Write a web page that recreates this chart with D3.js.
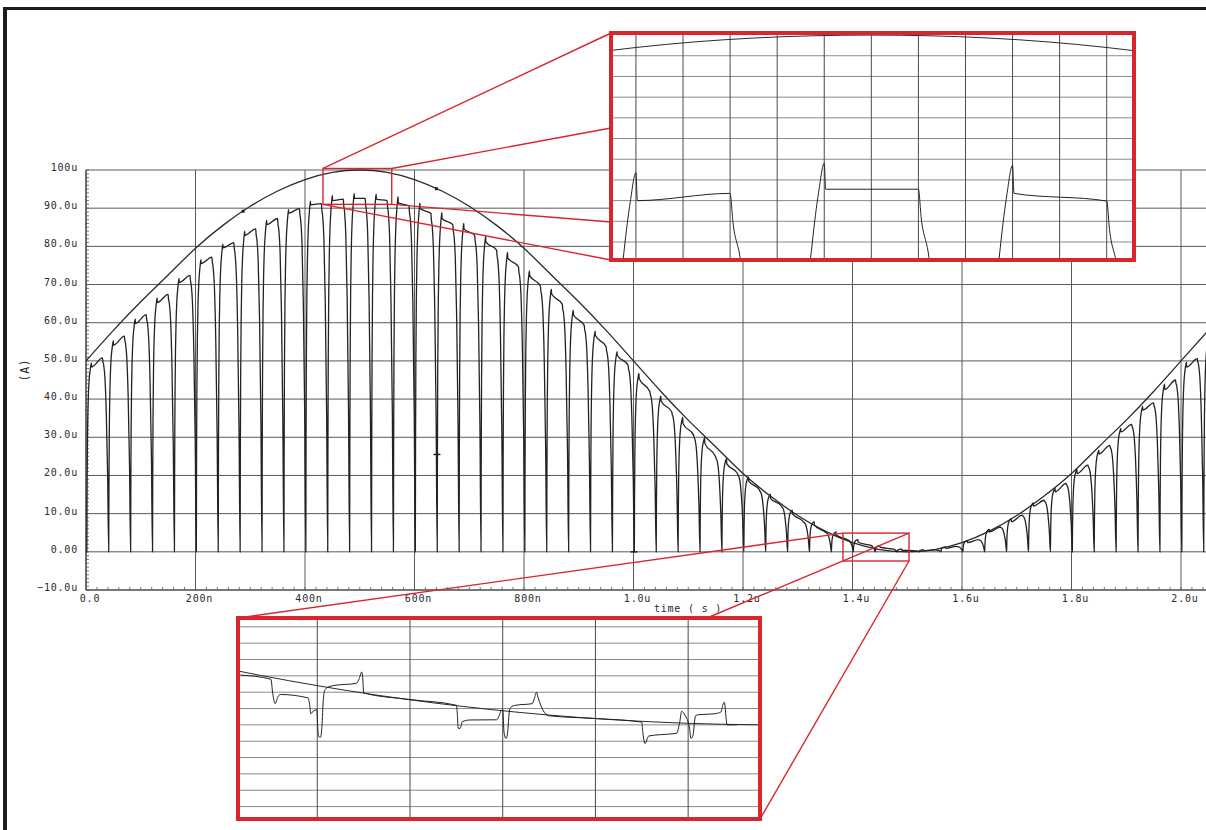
<!DOCTYPE html>
<html><head><meta charset="utf-8">
<script src="https://cdn.jsdelivr.net/npm/d3@7"></script>
<style>
html,body{margin:0;padding:0;background:#fff;}
svg{display:block;}
text{font-family:"DejaVu Sans Mono","Liberation Mono",monospace;}
</style></head>
<body>
<script>
// ---------------- data (time in ns, current in uA) ----------------
const xTickVals = [0, 200, 400, 600, 800, 1000, 1200, 1400, 1600, 1800, 2000];
const xTickLabels = ["0.0", "200n", "400n", "600n", "800n", "1.0u", "1.2u", "1.4u", "1.6u", "1.8u", "2.0u"];
const yTickVals = [-10, 0, 10, 20, 30, 40, 50, 60, 70, 80, 90, 100];
const yTickLabels = ["\u221210.0u", "0.00", "10.0u", "20.0u", "30.0u", "40.0u", "50.0u", "60.0u", "70.0u", "80.0u", "90.0u", "100u"];

// envelope (reference sine current)
const envT = [0, 50, 100, 150, 200, 250, 300, 350, 400, 450, 500, 550, 600, 650, 700, 750, 800, 850, 900, 950,
  1000, 1050, 1100, 1150, 1200, 1250, 1300, 1350, 1400, 1450, 1500, 1550, 1600, 1650, 1700, 1750, 1800, 1850, 1900, 1950, 2000, 2050];
const envI = [50, 58, 65.5, 72.5, 79.5, 85.5, 90.5, 94.5, 97.5, 99.4, 100, 99.4, 97.5, 94.5, 90.5, 85.5, 79.5, 72.5, 65.5, 58,
  50, 42, 34.5, 27.5, 20.5, 14.6, 9.5, 5.4, 2.4, 0.6, 0, 0.6, 2.4, 5.4, 9.5, 14.6, 20.5, 27.5, 34.5, 42, 50, 58];

// switched current pulses: dip instants and levels per pulse
const dipT = [1.5, 41.5, 81.5, 121.5, 161.5, 201.5, 241.5, 281.5, 321.5, 361.5, 401.5, 441.5, 481.5, 521.5, 561.5, 601.5,
  641.5, 681.5, 721.5, 761.5, 801.5, 841.5, 881.5, 921.5, 961.5, 1001.5, 1041.5, 1081.5, 1121.5, 1161.5, 1201.5, 1241.5,
  1281.5, 1321.5, 1361.5, 1401.5, 1441.5, 1481.5, 1521.5, 1561.5, 1601.5, 1641.5, 1681.5, 1721.5, 1761.5, 1801.5, 1841.5,
  1881.5, 1921.5, 1961.5, 2001.5, 2041.5];
const spikeI = [49.5, 55.3, 61.0, 66.5, 71.6, 76.5, 80.6, 84.0, 86.8, 89.6, 91.8, 93.35, 93.8, 93.7, 93.0, 91.3,
  88.8, 86.0, 82.6, 78.4, 73.6, 68.8, 63.3, 57.8, 52.4, 46.7, 40.8, 35.2, 29.9, 24.4, 19.6, 15.1,
  10.9, 7.9, 5.2, 3.2, 1.6, 0.7, 0.5, 1.3, 2.9, 5.9, 8.7, 12.8, 16.6, 21.6, 26.6,
  32.3, 38.1, 43.9, 49.7, 56.0];
const plateauStart = [48.4, 54.1, 59.8, 65.3, 70.5, 75.5, 79.6, 82.9, 85.7, 88.7, 90.9, 92.0, 92.55, 92.35, 91.4, 89.9,
  87.3, 84.6, 81.2, 77.0, 72.4, 67.6, 62.1, 56.7, 51.5, 45.4, 39.5, 33.6, 28.4, 23.1, 18.6, 14.0,
  10.0, 7.0, 4.4, 2.5, 1.2, 0.4, 0.3, 0.9, 2.4, 5.2, 7.9, 12.0, 15.7, 20.5, 25.6,
  31.4, 37.1, 42.5, 48.4, 54.5];
const plateauEnd = [50.8, 56.5, 62.1, 67.4, 72.4, 77.2, 81.0, 84.6, 87.3, 89.9, 91.2, 92.35, 92.55, 91.98, 90.6, 88.6,
  85.7, 82.9, 79.0, 74.6, 69.6, 64.8, 59.3, 53.7, 48.9, 41.9, 36.6, 30.5, 24.9, 20.5, 16.2, 12.0,
  7.9, 5.2, 3.2, 1.8, 0.8, 0.3, 0.5, 1.4, 3.2, 6.5, 9.6, 13.5, 17.9, 22.7, 27.9,
  33.4, 39.0, 45.0, 50.6, 57.0];
// pulse edge shape (time after dip / after plateau end, fraction of level)
const riseDT = [0, 0.4, 1, 2, 3, 4.5, 6, 7.3, 8.5];
const riseF  = [0, 0.3, 0.55, 0.74, 0.84, 0.92, 0.96, 0.985, 1];
const spikeDropDT = 8.8, plateauEndDT = 28.5;
const fallDT = [0, 0.6, 2.2, 4.5, 7, 9.5, 11.5];
const fallF  = [1, 0.985, 0.965, 0.9, 0.72, 0.4, 0];

// small markers seen on the traces
const envDotT = [287, 640];
const dashT = [640, 1000];
const dashI = [25.5, 0];

// zoom windows
const zoomA = {t0: 444.7, t1: 555.8, i0: 89.13, i1: 100.1};
const zoomAxT = [450, 460, 470, 480, 490, 500, 510, 520, 530, 540, 550];
const zoomAyI = [90, 91, 92, 93, 94, 95, 96, 97, 98, 99];
const boxA = {t0: 432.9, t1: 558.4, i0: 91.0, i1: 100.4};

const zoomB = {t0: 1382.9, t1: 1495.5, i0: -5.76, i1: 6.54};
const zoomBxT = [1400, 1420, 1440, 1460, 1480];
const zoomByI = [-5, -4, -3, -2, -1, 0, 1, 2, 3, 4, 5, 6];
const boxB = {t0: 1382.6, t1: 1503.2, i0: -2.4, i1: 4.9};
// detailed trace near the current minimum (bottom zoom)
const zBT = [1383.4, 1390, 1390.4, 1390.9, 1391.5, 1392, 1398, 1398.4, 1398.6, 1399.1, 1399.9, 1400.1, 1400.3, 1400.7, 1401, 1401.3, 1401.7, 1402.5, 1403.6, 1408.4, 1409, 1409.6, 1409.8, 1410, 1420, 1430,
  1430.2, 1430.4, 1430.8, 1431.3, 1433, 1438.7, 1439.3, 1439.6, 1440, 1440.3, 1440.7, 1441, 1441.5, 1442, 1442.8, 1446.4, 1446.8, 1447.3, 1447.6, 1449.9, 1460, 1470,
  1470.2, 1470.4, 1470.7, 1471.5, 1474, 1477.5, 1478.2, 1478.6, 1479.3, 1480.3, 1480.6, 1481, 1481.6, 1482.2, 1485.7, 1487.1, 1487.5, 1487.8, 1488.4, 1490.5];
const zBI = [3.05, 2.79, 1.9, 1.30, 1.71, 1.86, 1.65, 1.14, 0.68, 0.83, 0.93, -0.1, -0.72, -0.76, -0.1, 1.55, 2.17, 2.33, 2.41, 2.54, 2.79, 3.24, 2.9, 1.96, 1.55, 1.2,
  0.7, -0.2, -0.22, 0.2, 0.3, 0.31, 0.62, 0.85, 0.93, -0.5, -0.83, -0.6, 0.93, 1.14, 1.2, 1.3, 1.6, 2.0, 1.7, 0.56, 0.39, 0.17,
  -0.4, -0.83, -1.14, -0.68, -0.6, -0.52, 0.2, 0.83, 0.6, -0.2, -0.83, -0.7, 0.56, 0.62, 0.68, 0.8, 1.24, 1.38, 0.0, 0.0];

// ---------------- drawing ----------------
const W = 1206, H = 830;
const RED = "#d8262c";
const svg = d3.select("body").append("svg").attr("width", W).attr("height", H);
svg.append("rect").attr("width", W).attr("height", H).attr("fill", "#fff");

// page frame
svg.append("rect").attr("x", 3).attr("y", 8).attr("width", 4).attr("height", H - 8).attr("fill", "#1c1c1c");
svg.append("rect").attr("x", 3).attr("y", 7).attr("width", W - 3).attr("height", 3).attr("fill", "#1c1c1c");

const x = d3.scaleLinear().domain([0, 2000]).range([86, 1181]);
const y = d3.scaleLinear().domain([-10, 100]).range([590, 170]);
const plotL = 86, plotR = 1206, plotT = 170, plotB = 590;

const defs = svg.append("defs");
defs.append("clipPath").attr("id", "plotClip").append("rect")
  .attr("x", plotL).attr("y", plotT - 5).attr("width", plotR - plotL).attr("height", plotB - plotT + 5);

const g = svg.append("g");
// grid
g.selectAll("line.hg").data(yTickVals).join("line")
  .attr("x1", plotL).attr("x2", plotR).attr("y1", d => y(d)).attr("y2", d => y(d))
  .attr("stroke", "#5a5a5a").attr("stroke-width", 1);
g.selectAll("line.vg").data(xTickVals).join("line")
  .attr("x1", d => x(d)).attr("x2", d => x(d)).attr("y1", plotT).attr("y2", plotB)
  .attr("stroke", "#5a5a5a").attr("stroke-width", 1);
// axis lines
g.append("line").attr("x1", plotL).attr("x2", plotL).attr("y1", plotT).attr("y2", plotB).attr("stroke", "#444").attr("stroke-width", 1.2);
g.append("line").attr("x1", plotL).attr("x2", plotR).attr("y1", plotB).attr("y2", plotB).attr("stroke", "#444").attr("stroke-width", 1.2);
// minor ticks
const yMinor = d3.range(-10, 100.01, 1);
g.selectAll("line.ym").data(yMinor).join("line")
  .attr("x1", plotL).attr("x2", plotL + 3).attr("y1", d => y(d)).attr("y2", d => y(d))
  .attr("stroke", "#555").attr("stroke-width", 0.8);
const xMinor = d3.range(0, 2041, 20);
g.selectAll("line.xm").data(xMinor).join("line")
  .attr("x1", d => x(d)).attr("x2", d => x(d)).attr("y1", plotB).attr("y2", plotB - 3)
  .attr("stroke", "#555").attr("stroke-width", 0.8);

// labels
const lab = svg.append("g").attr("fill", "#2a2a2a").attr("font-size", 10).style("letter-spacing", "0.8px");
lab.selectAll("text.yl").data(yTickVals).join("text")
  .attr("x", 78).attr("y", d => y(d) + 1).attr("text-anchor", "end").text((d, i) => yTickLabels[i]);
lab.selectAll("text.xl").data(xTickVals).join("text")
  .attr("x", d => x(d) + 4).attr("y", 602).attr("text-anchor", "middle").text((d, i) => xTickLabels[i]);
lab.append("text").attr("x", 688).attr("y", 612).attr("text-anchor", "middle").text("time ( s )");
lab.append("text").attr("transform", "translate(29,370) rotate(-90)").attr("text-anchor", "middle")
  .attr("font-size", 11.5).text("(A)");

// build waveform points
function wavePoints() {
  const pts = [[0, 0]];
  for (let k = 0; k < dipT.length; k++) {
    const td = dipT[k];
    for (let j = 0; j < riseDT.length; j++) pts.push([td + riseDT[j], spikeI[k] * riseF[j]]);
    pts.push([td + spikeDropDT, plateauStart[k]]);
    pts.push([td + plateauEndDT, plateauEnd[k]]);
    const last = k === dipT.length - 1 ? fallDT.length : fallDT.length - 1;
    for (let j = 1; j < last; j++) pts.push([td + plateauEndDT + fallDT[j], plateauEnd[k] * fallF[j]]);
  }
  return pts;
}
const wave = wavePoints();
const envPts = envT.map((t, i) => [t, envI[i]]);

function drawTraces(parent, sx, sy, clipId, sw) {
  const c = parent.append("g").attr("clip-path", `url(#${clipId})`);
  c.append("path").datum(envPts)
    .attr("d", d3.line().x(d => sx(d[0])).y(d => sy(d[1])).curve(d3.curveNatural))
    .attr("fill", "none").attr("stroke", "#2a2a2a").attr("stroke-width", sw);
  c.append("path").datum(wave)
    .attr("d", d3.line().x(d => sx(d[0])).y(d => sy(d[1])).curve(d3.curveMonotoneX))
    .attr("fill", "none").attr("stroke", "#222").attr("stroke-width", sw);
  return c;
}
const mainTr = drawTraces(svg, x, y, "plotClip", 1.3);
// markers
const envInterp = t => { // read envelope at marker time from envelope samples
  const i = d3.bisectLeft(envT, t); const t0 = envT[i - 1], t1 = envT[i];
  return envI[i - 1] + (envI[i] - envI[i - 1]) * (t - t0) / (t1 - t0);
};
mainTr.selectAll("rect.ed").data(envDotT).join("rect")
  .attr("x", d => x(d) - 1.5).attr("y", d => y(envInterp(d)) - 1.5).attr("width", 3).attr("height", 3).attr("fill", "#222");
mainTr.selectAll("line.dash").data(dashT).join("line")
  .attr("x1", d => x(d) - 3).attr("x2", d => x(d) + 4).attr("y1", (d, i) => y(dashI[i])).attr("y2", (d, i) => y(dashI[i]))
  .attr("stroke", "#222").attr("stroke-width", 1.5);

// small red boxes on main plot
function boxRect(b) { return {x0: x(b.t0), x1: x(b.t1), y0: y(b.i1), y1: y(b.i0)}; }
const bA = boxRect(boxA), bB = boxRect(boxB);
[bA, bB].forEach(b => svg.append("rect").attr("x", b.x0).attr("y", b.y0).attr("width", b.x1 - b.x0).attr("height", b.y1 - b.y0)
  .attr("fill", "none").attr("stroke", RED).attr("stroke-width", 1.4));

// zoom panels
const panA = {x0: 611, x1: 1134, y0: 33, y1: 260};
const panB = {x0: 238, x1: 760, y0: 618, y1: 819};

// connectors
const conn = svg.append("g").attr("stroke", RED).attr("stroke-width", 1.4);
[[bA.x0, bA.y0, panA.x0, panA.y0], [bA.x1, bA.y0, panA.x0, 128], [bA.x1, bA.y1, panA.x0, 222], [bA.x0, bA.y1, panA.x0, panA.y1],
 [bB.x0, bB.y0, panB.x0, panB.y0], [bB.x1, bB.y0, 707, panB.y0], [bB.x1, bB.y1, panB.x1, panB.y1]]
  .forEach(l => conn.append("line").attr("x1", l[0]).attr("y1", l[1]).attr("x2", l[2]).attr("y2", l[3]));

function panel(p, z, xt, yi, id, drawFn) {
  const sx = d3.scaleLinear().domain([z.t0, z.t1]).range([p.x0, p.x1]);
  const sy = d3.scaleLinear().domain([z.i0, z.i1]).range([p.y1, p.y0]);
  const pg = svg.append("g");
  pg.append("rect").attr("x", p.x0).attr("y", p.y0).attr("width", p.x1 - p.x0).attr("height", p.y1 - p.y0).attr("fill", "#fff");
  defs.append("clipPath").attr("id", id).append("rect").attr("x", p.x0).attr("y", p.y0).attr("width", p.x1 - p.x0).attr("height", p.y1 - p.y0);
  pg.selectAll("line.h").data(yi).join("line").attr("x1", p.x0).attr("x2", p.x1).attr("y1", d => sy(d)).attr("y2", d => sy(d))
    .attr("stroke", "#8a8a8a").attr("stroke-width", 1);
  pg.selectAll("line.v").data(xt).join("line").attr("x1", d => sx(d)).attr("x2", d => sx(d)).attr("y1", p.y0).attr("y2", p.y1)
    .attr("stroke", "#4a4a4a").attr("stroke-width", 1);
  drawFn(pg, sx, sy);
  pg.append("rect").attr("x", p.x0).attr("y", p.y0).attr("width", p.x1 - p.x0).attr("height", p.y1 - p.y0)
    .attr("fill", "none").attr("stroke", RED).attr("stroke-width", 4);
}
panel(panA, zoomA, zoomAxT, zoomAyI, "clipA", (pg, sx, sy) => drawTraces(pg, sx, sy, "clipA", 1));
panel(panB, zoomB, zoomBxT, zoomByI, "clipB", (pg, sx, sy) => {
  const c = pg.append("g").attr("clip-path", "url(#clipB)");
  c.append("path").datum(envPts)
    .attr("d", d3.line().x(d => sx(d[0])).y(d => sy(d[1])).curve(d3.curveNatural))
    .attr("fill", "none").attr("stroke", "#2a2a2a").attr("stroke-width", 1);
  c.append("path").datum(zBT.map((t, i) => [t, zBI[i]]))
    .attr("d", d3.line().x(d => sx(d[0])).y(d => sy(d[1])).curve(d3.curveMonotoneX))
    .attr("fill", "none").attr("stroke", "#222").attr("stroke-width", 1);
});
</script>
</body></html>
